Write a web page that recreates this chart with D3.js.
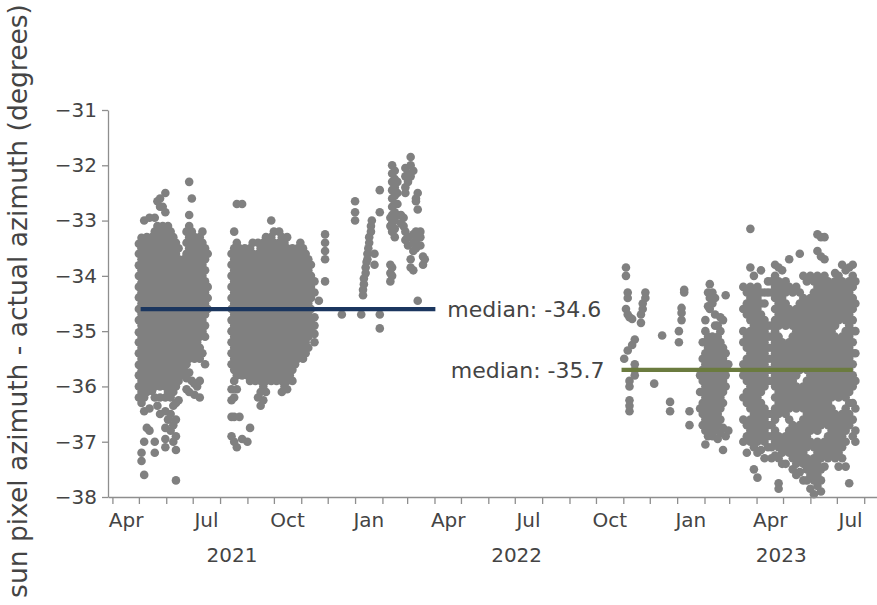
<!DOCTYPE html>
<html>
<head>
<meta charset="utf-8">
<script src="https://cdn.jsdelivr.net/npm/d3@7"></script>
<style>
  body { margin: 0; background: #ffffff; }
  svg text { font-family: "DejaVu Sans", sans-serif; }
</style>
</head>
<body>
<svg id="chart" width="877" height="605"></svg>
<script>
// Azimuth offset observations, grouped by day: [date, [offsets in degrees]]
const campaign1 = [
  ["2021-05-01", [-33.42,-33.6,-33.81,-34.0,-34.2,-34.39,-34.6,-34.8,-35.02,-35.2,-35.4,-35.61,-35.8,-36.0,-36.2]],
  ["2021-05-04", [-33.31,-33.5,-33.7,-33.9,-34.12,-34.3,-34.5,-34.69,-34.9,-35.1,-35.3,-35.5,-35.72,-35.9,-36.1,-36.3,-37.2,-37.35]],
  ["2021-05-07", [-33.0,-33.4,-33.6,-33.8,-34.0,-34.2,-34.42,-34.6,-34.8,-35.0,-35.2,-35.4,-35.6,-35.8,-36.02,-36.2,-36.45,-37.0,-37.6]],
  ["2021-05-10", [-33.3,-33.5,-33.7,-33.92,-34.1,-34.3,-34.5,-34.7,-34.9,-35.1,-35.28,-35.5,-35.7,-35.9,-36.1,-36.75]],
  ["2021-05-13", [-32.95,-33.4,-33.6,-33.8,-34.0,-34.2,-34.4,-34.61,-34.8,-35.0,-35.2,-35.4,-35.6,-35.8,-36.0,-36.4,-36.8]],
  ["2021-05-16", [-33.3,-33.5,-33.7,-33.9,-34.1,-34.3,-34.5,-34.7,-34.9,-35.1,-35.3,-35.5,-35.7,-35.9,-36.08]],
  ["2021-05-19", [-32.95,-33.2,-33.4,-33.6,-33.8,-34.0,-34.2,-34.4,-34.6,-34.8,-35.0,-35.2,-35.4,-35.6,-35.8,-36.0,-36.2,-37.0,-37.2]],
  ["2021-05-22", [-32.65,-33.1,-33.3,-33.5,-33.7,-33.9,-34.1,-34.3,-34.5,-34.7,-34.9,-35.1,-35.3,-35.5,-35.7,-35.9,-36.35]],
  ["2021-05-25", [-32.6,-32.75,-33.2,-33.4,-33.6,-33.8,-34.0,-34.2,-34.4,-34.6,-34.8,-35.0,-35.2,-35.4,-35.6,-35.8,-36.0,-36.2,-36.5]],
  ["2021-05-28", [-32.75,-33.1,-33.3,-33.5,-33.7,-33.9,-34.1,-34.3,-34.5,-34.7,-34.9,-35.1,-35.3,-35.5,-35.7,-35.9]],
  ["2021-05-31", [-32.5,-32.85,-33.2,-33.4,-33.6,-33.8,-34.0,-34.2,-34.4,-34.6,-34.8,-35.0,-35.2,-35.4,-35.6,-35.8,-36.0,-36.2,-36.45,-36.75,-36.95,-37.1]],
  ["2021-06-03", [-33.1,-33.3,-33.5,-33.7,-33.9,-34.1,-34.3,-34.5,-34.7,-34.9,-35.1,-35.3,-35.5,-35.7,-35.9,-36.1,-36.6]],
  ["2021-06-06", [-33.2,-33.4,-33.6,-33.8,-34.0,-34.2,-34.4,-34.6,-34.8,-35.0,-35.2,-35.4,-35.6,-35.8,-36.0,-36.2,-36.5,-36.8]],
  ["2021-06-09", [-33.3,-33.5,-33.7,-33.9,-34.1,-34.3,-34.5,-34.7,-34.9,-35.1,-35.3,-35.5,-35.7,-35.9,-36.1,-36.35,-36.7,-37.0]],
  ["2021-06-12", [-33.4,-33.6,-33.8,-34.0,-34.2,-34.4,-34.6,-34.8,-35.0,-35.2,-35.4,-35.6,-35.8,-36.0,-36.3,-36.6,-36.9,-37.15,-37.7]],
  ["2021-06-15", [-33.5,-33.7,-33.9,-34.1,-34.3,-34.5,-34.7,-34.9,-35.1,-35.3,-35.5,-35.7,-35.9,-36.25]],
  ["2021-06-18", [-33.8,-34.0,-34.2,-34.4,-34.6,-34.8,-35.0,-35.2,-35.4,-35.6,-35.8]],
  ["2021-06-21", [-33.7,-33.9,-34.1,-34.3,-34.5,-34.7,-34.9,-35.1,-35.3,-35.5,-35.7]],
  ["2021-06-24", [-33.2,-33.4,-33.6,-33.8,-34.0,-34.2,-34.4,-34.6,-34.8,-35.0,-35.2,-35.4,-35.6,-35.85,-36.05]],
  ["2021-06-27", [-32.3,-32.9,-33.1,-33.3,-33.5,-33.7,-33.9,-34.1,-34.3,-34.5,-34.7,-34.9,-35.1,-35.3,-35.5,-35.75,-36.1]],
  ["2021-06-30", [-32.6,-33.2,-33.4,-33.6,-33.8,-34.0,-34.2,-34.4,-34.6,-34.8,-35.0,-35.2,-35.4,-35.9]],
  ["2021-07-03", [-33.3,-33.5,-33.7,-33.9,-34.1,-34.3,-34.5,-34.7,-34.9,-35.1,-35.3,-35.5,-35.95,-36.15]],
  ["2021-07-06", [-33.4,-33.6,-33.8,-34.0,-34.2,-34.4,-34.6,-34.8,-35.0,-35.2,-35.4,-36.0]],
  ["2021-07-09", [-33.3,-33.5,-33.7,-33.9,-34.1,-34.3,-34.5,-34.7,-34.9,-35.1,-35.3,-35.5,-35.9,-36.2]],
  ["2021-07-12", [-33.2,-33.4,-33.6,-33.8,-34.0,-34.2,-34.4,-34.6,-34.8,-35.0,-35.4]],
  ["2021-07-15", [-33.5,-33.7,-33.9,-34.1,-34.3,-34.5,-34.7,-34.9,-35.1,-35.6]],
  ["2021-07-18", [-33.6,-34.2,-34.4,-34.6]],
  ["2021-08-14", [-33.6,-33.8,-34.0,-34.2,-34.4,-34.6,-34.8,-35.0,-35.2,-35.4,-35.6,-36.05,-36.25,-36.55,-36.9]],
  ["2021-08-17", [-33.2,-33.5,-33.7,-33.9,-34.1,-34.3,-34.5,-34.7,-34.9,-35.1,-35.3,-35.5,-35.7,-35.9,-36.2,-36.55,-37.0]],
  ["2021-08-20", [-32.7,-33.4,-33.6,-33.8,-34.0,-34.2,-34.4,-34.6,-34.8,-35.0,-35.2,-35.4,-35.6,-35.8,-36.05,-37.1]],
  ["2021-08-23", [-33.5,-33.7,-33.9,-34.1,-34.3,-34.5,-34.7,-34.9,-35.1,-35.3,-35.5,-35.7,-36.55]],
  ["2021-08-26", [-32.7,-33.6,-33.8,-34.0,-34.2,-34.4,-34.6,-34.8,-35.0,-35.2,-35.4,-35.6,-35.8,-36.95]],
  ["2021-08-29", [-33.5,-33.7,-33.9,-34.1,-34.3,-34.5,-34.7,-34.9,-35.1,-35.3,-35.5,-35.7]],
  ["2021-09-01", [-33.6,-33.8,-34.0,-34.2,-34.4,-34.6,-34.8,-35.0,-35.2,-35.4,-35.6,-35.8,-37.0]],
  ["2021-09-04", [-33.5,-33.7,-33.9,-34.1,-34.3,-34.5,-34.7,-34.9,-35.1,-35.3,-35.5,-35.7,-35.9,-36.75]],
  ["2021-09-07", [-33.4,-33.6,-33.8,-34.0,-34.2,-34.4,-34.6,-34.8,-35.0,-35.2,-35.4,-35.6,-35.8]],
  ["2021-09-10", [-33.7,-33.9,-34.1,-34.3,-34.5,-34.7,-34.9,-35.1,-35.3,-35.5,-35.7,-35.9]],
  ["2021-09-13", [-33.4,-33.6,-33.8,-34.0,-34.2,-34.4,-34.6,-34.8,-35.0,-35.2,-35.4,-35.6,-35.8,-36.2]],
  ["2021-09-16", [-33.5,-33.7,-33.9,-34.1,-34.3,-34.5,-34.7,-34.9,-35.1,-35.3,-35.5,-35.7,-35.9,-36.1,-36.35]],
  ["2021-09-19", [-33.4,-33.6,-33.8,-34.0,-34.2,-34.4,-34.6,-34.8,-35.0,-35.2,-35.4,-35.6,-35.8,-36.0,-36.25]],
  ["2021-09-22", [-33.3,-33.5,-33.7,-33.9,-34.1,-34.3,-34.5,-34.7,-34.9,-35.1,-35.3,-35.5,-35.7,-35.9,-36.1]],
  ["2021-09-25", [-33.4,-33.6,-33.8,-34.0,-34.2,-34.4,-34.6,-34.8,-35.0,-35.2,-35.4,-35.6,-35.8]],
  ["2021-09-28", [-33.0,-33.3,-33.5,-33.7,-33.9,-34.1,-34.3,-34.5,-34.7,-34.9,-35.1,-35.3,-35.5,-35.7,-35.9]],
  ["2021-10-01", [-33.2,-33.4,-33.6,-33.8,-34.0,-34.2,-34.4,-34.6,-34.8,-35.0,-35.2,-35.4,-35.6,-35.8]],
  ["2021-10-04", [-33.5,-33.7,-33.9,-34.1,-34.3,-34.5,-34.7,-34.9,-35.1,-35.3,-35.5,-35.7,-35.9]],
  ["2021-10-07", [-33.2,-33.4,-33.6,-33.8,-34.0,-34.2,-34.4,-34.6,-34.8,-35.0,-35.2,-35.4,-35.6,-35.8]],
  ["2021-10-10", [-33.3,-33.5,-33.7,-33.9,-34.1,-34.3,-34.5,-34.7,-34.9,-35.1,-35.3,-35.5,-35.7,-35.9,-36.1]],
  ["2021-10-13", [-33.4,-33.6,-33.8,-34.0,-34.2,-34.4,-34.6,-34.8,-35.0,-35.2,-35.4,-35.6,-35.8,-36.0]],
  ["2021-10-16", [-33.3,-33.5,-33.7,-33.9,-34.1,-34.3,-34.5,-34.7,-34.9,-35.1,-35.3,-35.5,-35.7,-35.9,-36.05]],
  ["2021-10-19", [-33.6,-33.8,-34.0,-34.2,-34.4,-34.6,-34.8,-35.0,-35.2,-35.4,-35.6,-35.8]],
  ["2021-10-22", [-33.5,-33.7,-33.9,-34.1,-34.3,-34.5,-34.7,-34.9,-35.1,-35.3,-35.5,-35.7,-35.9]],
  ["2021-10-25", [-33.6,-33.8,-34.0,-34.2,-34.4,-34.6,-34.8,-35.0,-35.2,-35.4,-35.6]],
  ["2021-10-28", [-33.5,-33.7,-33.9,-34.1,-34.3,-34.5,-34.7,-34.9,-35.1,-35.3,-35.5]],
  ["2021-10-31", [-33.4,-33.6,-33.8,-34.0,-34.2,-34.4,-34.6,-34.8,-35.0,-35.2,-35.4]],
  ["2021-11-03", [-33.5,-33.7,-33.9,-34.1,-34.3,-34.5,-34.7,-34.9,-35.1,-35.3,-35.5]],
  ["2021-11-06", [-33.6,-33.8,-34.0,-34.2,-34.4,-34.6,-34.8,-35.0,-35.2,-35.4]],
  ["2021-11-09", [-33.7,-33.9,-34.1,-34.3,-34.5,-34.7,-34.9,-35.1,-35.3]],
  ["2021-11-12", [-33.8,-34.0,-34.2,-34.4,-34.6,-34.8,-35.0]],
  ["2021-11-16", [-34.1,-34.3,-34.75,-34.9,-35.05,-35.2]],
  ["2021-11-21", [-34.45]],
  ["2021-11-28", [-33.25,-33.4,-33.55,-33.7,-34.1]],
  ["2021-12-17", [-34.7]],
  ["2022-01-01", [-32.65,-32.85,-33.0]],
  ["2022-01-08", [-34.7]],
  ["2022-01-10", [-34.35,-34.25]],
  ["2022-01-11", [-34.15,-34.05]],
  ["2022-01-13", [-33.95,-33.85]],
  ["2022-01-14", [-33.75]],
  ["2022-01-15", [-33.7,-33.6]],
  ["2022-01-16", [-33.5]],
  ["2022-01-17", [-33.4,-33.3]],
  ["2022-01-19", [-33.2,-33.1]],
  ["2022-01-20", [-33.0]],
  ["2022-01-23", [-33.6,-33.8]],
  ["2022-01-29", [-32.45,-32.85,-34.7,-34.95]],
  ["2022-02-10", [-32.95,-33.1,-33.8,-33.95,-34.1]],
  ["2022-02-12", [-32.0,-32.15,-32.3,-32.45,-32.6,-32.75,-32.9,-33.05,-33.2,-33.85,-34.0]],
  ["2022-02-15", [-32.1,-32.25,-32.4,-32.55,-32.7,-32.85,-33.0,-33.15,-33.3]],
  ["2022-02-18", [-32.3,-32.5,-32.7,-32.9]],
  ["2022-02-22", [-32.9,-33.05]],
  ["2022-02-25", [-32.95,-33.1]],
  ["2022-02-27", [-32.05,-32.2,-32.4,-32.5,-33.2,-33.35]],
  ["2022-03-02", [-32.15,-32.3,-33.3,-33.45]],
  ["2022-03-05", [-31.85,-32.0,-32.2,-33.7,-33.85]],
  ["2022-03-08", [-32.1,-33.25,-33.4,-33.55,-33.9]],
  ["2022-03-11", [-32.6,-32.65,-33.2,-33.35,-33.5]],
  ["2022-03-13", [-32.5,-32.8,-34.45]],
  ["2022-03-16", [-33.2,-33.3,-33.45]],
  ["2022-03-19", [-33.65,-33.8]],
  ["2022-03-21", [-33.7]]
];

const campaign2 = [
  ["2022-11-02", [-35.5]],
  ["2022-11-04", [-33.85,-34.0,-34.6]],
  ["2022-11-06", [-34.3,-34.4,-34.7,-35.35]],
  ["2022-11-08", [-34.75,-35.9,-36.0,-36.25,-36.35,-36.45]],
  ["2022-11-11", [-34.78,-35.25]],
  ["2022-11-14", [-35.15,-35.6,-35.7,-35.8]],
  ["2022-11-21", [-34.85,-34.7]],
  ["2022-11-23", [-34.6,-34.5]],
  ["2022-11-26", [-34.4,-34.3]],
  ["2022-12-06", [-35.95]],
  ["2022-12-15", [-35.08]],
  ["2022-12-24", [-36.28,-36.45]],
  ["2023-01-03", [-35.2,-35.0]],
  ["2023-01-06", [-34.8,-34.67,-34.58]],
  ["2023-01-09", [-34.3,-34.25]],
  ["2023-01-15", [-36.45,-36.7]],
  ["2023-01-27", [-35.8,-36.1,-36.4]],
  ["2023-01-30", [-35.2,-35.5,-35.7,-35.9,-36.1,-36.3,-36.5,-36.7]],
  ["2023-02-02", [-34.8,-35.0,-35.2,-35.4,-35.6,-35.8,-36.0,-36.2,-36.4,-36.6,-36.8,-37.05]],
  ["2023-02-05", [-34.3,-34.55,-35.1,-35.3,-35.5,-35.7,-35.9,-36.1,-36.3,-36.5,-36.7,-36.9]],
  ["2023-02-07", [-34.15,-34.4,-34.6,-35.2,-35.4,-35.6,-35.8,-36.0,-36.2,-36.4,-36.6,-36.8]],
  ["2023-02-10", [-34.3,-34.5,-35.1,-35.3,-35.5,-35.7,-35.9,-36.1,-36.3,-36.5,-36.7,-36.9]],
  ["2023-02-13", [-34.4,-34.7,-34.9,-35.2,-35.4,-35.6,-35.8,-36.0,-36.2,-36.4,-36.6,-36.8]],
  ["2023-02-16", [-34.9,-35.1,-35.3,-35.5,-35.7,-35.9,-36.1,-36.3,-36.5,-36.7,-36.95]],
  ["2023-02-19", [-34.75,-35.0,-35.2,-35.4,-35.6,-35.8,-36.0,-36.2,-36.4,-36.6,-36.85]],
  ["2023-02-22", [-34.8,-35.3,-35.5,-35.7,-35.9,-36.1,-36.3,-36.75,-37.15]],
  ["2023-02-25", [-34.35,-35.4,-35.6,-35.8,-36.0,-36.9]],
  ["2023-02-28", [-35.6,-36.8]],
  ["2023-03-17", [-34.2,-34.6,-35.0,-35.2,-35.6,-35.8,-36.2,-36.6,-37.0]],
  ["2023-03-21", [-34.3,-34.5,-34.7,-35.1,-35.3,-35.5,-35.7,-35.9,-36.1,-36.3,-36.7,-36.9,-37.2]],
  ["2023-03-25", [-33.15,-33.85,-34.2,-34.4,-34.6,-34.8,-35.0,-35.2,-35.4,-35.6,-35.8,-36.0,-36.2,-36.4,-36.6,-36.8,-37.0]],
  ["2023-03-29", [-34.0,-34.3,-34.5,-34.7,-34.9,-35.1,-35.3,-35.5,-35.7,-35.9,-36.1,-36.3,-36.5,-36.7,-36.9,-37.1,-37.5]],
  ["2023-04-02", [-34.2,-34.4,-34.6,-34.8,-35.0,-35.2,-35.4,-35.6,-35.8,-36.0,-36.2,-36.4,-36.6,-36.8,-37.0,-37.2,-37.65]],
  ["2023-04-06", [-33.9,-34.3,-34.5,-34.7,-34.9,-35.1,-35.3,-35.5,-35.7,-35.9,-36.1,-36.3,-36.5,-36.7,-36.9,-37.15]],
  ["2023-04-10", [-34.3,-34.5,-34.8,-35.0,-35.2,-35.4,-35.6,-35.8,-36.0,-36.4,-36.6,-36.8,-37.0,-37.3]],
  ["2023-04-14", [-34.1,-34.3,-34.9,-35.1,-35.3,-35.5,-35.7,-35.9,-36.5,-36.7,-36.9,-37.1]],
  ["2023-04-18", [-34.1,-34.3,-34.9,-35.1,-35.3,-35.5,-35.7,-35.9,-36.5,-36.7,-36.9,-37.1,-37.3]],
  ["2023-04-22", [-33.8,-34.0,-34.2,-34.4,-34.6,-34.8,-35.0,-35.2,-35.4,-35.6,-35.8,-36.0,-36.2,-36.4,-36.6,-36.8,-37.0,-37.25]],
  ["2023-04-26", [-33.85,-34.1,-34.3,-34.5,-34.7,-34.9,-35.1,-35.3,-35.5,-35.7,-35.9,-36.1,-36.3,-36.5,-36.9,-37.1,-37.3,-37.75,-37.85]],
  ["2023-04-30", [-33.9,-34.2,-34.4,-34.6,-34.8,-35.2,-35.4,-35.6,-35.8,-36.0,-36.2,-36.4,-37.0,-37.2,-37.4]],
  ["2023-05-04", [-34.1,-34.3,-34.5,-34.7,-34.9,-35.3,-35.5,-35.7,-35.9,-36.1,-36.3,-36.5,-36.9,-37.1,-37.4]],
  ["2023-05-08", [-33.7,-34.2,-34.6,-34.8,-35.2,-35.4,-35.6,-35.8,-36.0,-36.2,-36.4,-36.6,-36.8,-37.0,-37.2]],
  ["2023-05-12", [-34.3,-34.7,-34.9,-35.1,-35.3,-35.5,-35.7,-35.9,-36.1,-36.3,-36.7,-36.9,-37.1,-37.3,-37.5]],
  ["2023-05-16", [-34.2,-34.6,-34.8,-35.0,-35.2,-35.4,-35.6,-35.8,-36.0,-36.2,-36.4,-36.8,-37.0,-37.2,-37.4,-37.6]],
  ["2023-05-20", [-33.6,-34.3,-34.5,-34.7,-34.9,-35.1,-35.3,-35.5,-35.7,-36.1,-36.3,-36.7,-36.9,-37.1,-37.3,-37.55]],
  ["2023-05-24", [-34.0,-34.4,-34.6,-34.8,-35.0,-35.2,-35.4,-35.6,-36.0,-36.2,-36.4,-36.6,-36.8,-37.0,-37.2,-37.4,-37.7]],
  ["2023-05-28", [-34.1,-34.5,-34.7,-34.9,-35.1,-35.3,-35.5,-35.7,-35.9,-36.1,-36.3,-36.5,-36.7,-36.9,-37.1,-37.3,-37.5,-37.7]],
  ["2023-06-01", [-34.0,-34.4,-34.6,-34.8,-35.0,-35.2,-35.4,-35.6,-35.8,-36.0,-36.2,-36.4,-36.6,-36.8,-37.0,-37.4,-37.6,-37.85]],
  ["2023-06-05", [-34.1,-34.3,-34.5,-34.7,-34.9,-35.1,-35.3,-35.5,-35.7,-35.9,-36.1,-36.3,-36.5,-36.7,-37.1,-37.3,-37.5,-37.7,-37.95]],
  ["2023-06-09", [-33.25,-33.55,-34.0,-34.2,-34.4,-34.6,-34.8,-35.0,-35.2,-35.4,-35.6,-35.8,-36.0,-36.2,-36.4,-36.6,-36.8,-37.0,-37.2,-37.4,-37.6,-37.8]],
  ["2023-06-13", [-33.3,-33.65,-34.1,-34.3,-34.5,-34.7,-34.9,-35.1,-35.3,-35.5,-35.7,-35.9,-36.1,-36.3,-36.5,-36.7,-37.1,-37.3,-37.5,-37.7,-37.9]],
  ["2023-06-17", [-33.3,-33.7,-34.0,-34.2,-34.4,-34.6,-34.8,-35.0,-35.2,-35.4,-35.6,-35.8,-36.0,-36.2,-36.4,-36.6,-37.0,-37.2,-37.45]],
  ["2023-06-21", [-34.1,-34.3,-34.5,-34.7,-34.9,-35.1,-35.3,-35.5,-35.7,-35.9,-36.1,-36.3,-36.5,-36.7,-36.9,-37.1,-37.3]],
  ["2023-06-25", [-34.2,-34.4,-34.6,-34.8,-35.0,-35.2,-35.4,-35.6,-35.8,-36.0,-36.2,-36.4,-36.6,-36.8,-37.0,-37.2]],
  ["2023-06-29", [-33.95,-34.1,-34.3,-34.5,-34.7,-34.9,-35.1,-35.3,-35.5,-35.7,-35.9,-36.1,-36.5,-36.7,-36.9,-37.1,-37.3]],
  ["2023-07-03", [-34.0,-34.2,-34.4,-34.6,-34.8,-35.2,-35.4,-35.6,-35.8,-36.0,-36.2,-36.6,-36.8,-37.0,-37.2,-37.45]],
  ["2023-07-07", [-33.8,-34.1,-34.3,-34.5,-34.7,-35.1,-35.3,-35.5,-35.7,-35.9,-36.1,-36.5,-36.7,-36.9,-37.1,-37.3]],
  ["2023-07-11", [-33.9,-34.2,-34.4,-34.6,-34.8,-35.0,-35.2,-35.4,-35.6,-35.8,-36.0,-36.2,-36.4,-36.6,-36.8,-37.0,-37.45]],
  ["2023-07-15", [-33.85,-34.1,-34.3,-34.5,-34.7,-34.9,-35.1,-35.3,-35.5,-35.7,-35.9,-36.1,-36.3,-36.5,-36.7,-37.75]],
  ["2023-07-19", [-33.8,-34.0,-34.2,-34.4,-34.6,-34.8,-35.0,-35.2,-35.4,-35.6,-35.8,-36.0,-36.3,-36.6,-36.9]],
  ["2023-07-22", [-34.1,-34.5,-35.0,-35.4,-35.9,-36.4,-36.8,-37.0]]
];

// Median offset of each campaign and the span its line covers
const medianValues = [-34.6, -35.7];
const medianSpans = [["2021-05-03", "2022-04-02"], ["2022-10-30", "2023-07-19"]];
const medianColors = ["#1b365f", "#6b7b3f"];

const yTicks = [-31, -32, -33, -34, -35, -36, -37, -38];
const quarterMonths = ["Jan", "Apr", "Jul", "Oct"];
const years = [2021, 2022, 2023];
const yTitle = "sun pixel azimuth - actual azimuth (degrees)";

const parse = d3.utcParse("%Y-%m-%d");
const xStart = parse("2021-03-27"), xEnd = parse("2023-08-24");

const svg = d3.select("#chart");
const x = d3.scaleUtc().domain([xStart, xEnd]).range([108, 884.5]);
const y = d3.scaleLinear().domain([-38, -31]).range([497, 110]);

const axisColor = "#8e8e8e";
const textColor = "#444444";

const points = campaign1.concat(campaign2).flatMap(([d, vals]) =>
  vals.map(v => ({ date: parse(d), value: v })));

// scatter
svg.append("g")
  .selectAll("circle")
  .data(points)
  .join("circle")
  .attr("cx", d => x(d.date))
  .attr("cy", d => y(d.value))
  .attr("r", 4.3)
  .attr("fill", "#808080");

// median lines and their labels
medianValues.forEach((m, i) => {
  const x0 = x(parse(medianSpans[i][0])), x1 = x(parse(medianSpans[i][1]));
  svg.append("line")
    .attr("x1", x0).attr("x2", x1)
    .attr("y1", y(m)).attr("y2", y(m))
    .attr("stroke", medianColors[i])
    .attr("stroke-width", 4.2);
  svg.append("text")
    .attr("x", i === 0 ? x1 + 12 : x0 - 17)
    .attr("y", y(m))
    .attr("dy", "0.36em")
    .attr("text-anchor", i === 0 ? "start" : "end")
    .attr("font-size", 22)
    .attr("fill", textColor)
    .text("median: " + m.toFixed(1));
});

// y axis
const yAxis = svg.append("g")
  .attr("transform", "translate(108,0)")
  .call(d3.axisLeft(y).tickValues(yTicks).tickFormat(d3.format("d"))
    .tickSize(6).tickSizeOuter(0).tickPadding(5));
yAxis.select(".domain").attr("stroke", axisColor).attr("stroke-width", 1.3);
yAxis.selectAll(".tick line").attr("stroke", axisColor).attr("stroke-width", 1.3);
yAxis.selectAll(".tick text").attr("fill", textColor).attr("font-size", 20)
  .attr("font-family", "DejaVu Sans");

// x axis: month boundaries as ticks
const monthStarts = d3.utcMonth.range(d3.utcMonth.ceil(xStart), xEnd);
const xAxis = svg.append("g")
  .attr("transform", "translate(0,497)")
  .call(d3.axisBottom(x).tickValues(monthStarts).tickSize(7).tickSizeOuter(0).tickFormat(""));
xAxis.select(".domain").attr("stroke", axisColor).attr("stroke-width", 1.3);
xAxis.selectAll(".tick line").attr("stroke", axisColor).attr("stroke-width", 1.3);

// quarter month names, centred in their month
const quarterMids = monthStarts
  .filter(d => quarterMonths.includes(d3.utcFormat("%b")(d)))
  .map(d => d3.utcDay.offset(d, 15));
const monthAxis = svg.append("g")
  .attr("transform", "translate(0,497)")
  .call(d3.axisBottom(x).tickValues(quarterMids).tickSize(0).tickPadding(16)
    .tickFormat(d3.utcFormat("%b")));
monthAxis.select(".domain").remove();
monthAxis.selectAll(".tick text").attr("fill", textColor).attr("font-size", 20)
  .attr("font-family", "DejaVu Sans");

// year names, centred on the visible part of each year
const yearMids = years.map(yr => {
  const a = d3.max([new Date(Date.UTC(yr, 0, 1)), xStart]);
  const b = d3.min([new Date(Date.UTC(yr + 1, 0, 1)), xEnd]);
  return new Date((a.getTime() + b.getTime()) / 2);
});
const yearAxis = svg.append("g")
  .attr("transform", "translate(0,497)")
  .call(d3.axisBottom(x).tickValues(yearMids).tickSize(0).tickPadding(51)
    .tickFormat(d3.utcFormat("%Y")));
yearAxis.select(".domain").remove();
yearAxis.selectAll(".tick text").attr("fill", textColor).attr("font-size", 20)
  .attr("font-family", "DejaVu Sans");

// y axis title
svg.append("text")
  .attr("transform", "translate(27,301) rotate(-90)")
  .attr("text-anchor", "middle")
  .attr("font-size", 26.5)
  .attr("fill", textColor)
  .text(yTitle);
</script>
</body>
</html>
